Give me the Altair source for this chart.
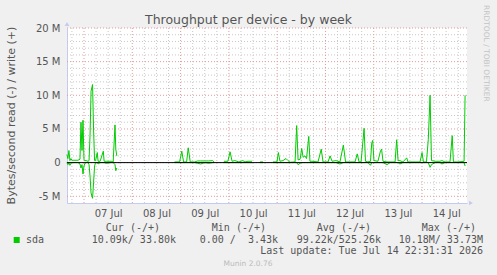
import altair as alt
import pandas as pd

# ---------------- data (hours since 2026-07-07 00:00, values in M bytes/s) -------------
# each tuple: (hour, write(+), read(-) magnitude)
seg1 = [(-8.5, 1.2, 0.0), (-8.0, 0.6, 0.3), (-7.5, 1.8, 0.0), (-7.0, 0.3, 0.4), (-6.5, 0.6, 0.1),
        (-6.0, 0.35, 0.0), (-3.0, 0.35, 0.0), (-2.0, 0.5, 0.2), (-1.5, 6.0, 0.8), (-1.0, 1.8, 0.3),
        (-0.5, 6.3, 1.7), (0.0, 0.4, 0.5), (0.5, 0.3, 0.1), (1.0, 0.3, 0.0), (2.0, 0.2, 0.0),
        (2.5, 0.3, 0.3), (3.0, 4.0, 2.0), (3.5, 10.6, 4.5), (4.25, 11.6, 5.3), (4.75, 5.0, 3.0),
        (5.25, 0.3, 0.5), (5.75, 0.3, 0.0), (6.6, 1.5, 0.0), (7.0, 0.2, 0.2), (8.0, 0.2, 0.0),
        (9.6, 1.7, 0.0), (10.0, 0.2, 0.0), (11.0, 0.2, 0.1), (13.5, 0.2, 0.0), (14.5, 0.1, 0.0),
        (15.4, 5.6, 0.3), (15.8, 2.0, 1.2), (16.3, 1.0, 0.8)]
seg2 = [(45.0, 0.1, 0.0), (47.5, 0.1, 0.0), (48.6, 1.7, 0.0), (49.5, 0.1, 0.0), (51.0, 0.1, 0.0),
        (51.8, 2.2, 0.0), (52.8, 0.1, 0.0), (55.0, 0.1, 0.0), (56.5, 0.25, 0.1), (58.0, 0.25, 0.2),
        (60.0, 0.25, 0.0), (62.0, 0.25, 0.1), (64.0, 0.3, 0.0), (64.6, 0.1, 0.0)]
seg3 = [(69.5, 0.2, 0.0), (71.5, 0.2, 0.0), (72.6, 1.6, 0.0), (73.6, 0.2, 0.0), (75.0, 0.3, 0.0),
        (77.0, 0.1, 0.0), (79.0, 0.3, 0.0), (80.0, 0.1, 0.0), (81.5, 0.2, 0.0), (83.5, 0.2, 0.0)]
seg4 = [(87.5, 0.1, 0.0), (89.0, 0.1, 0.0)]
seg5 = [(93.9, 0.1, 0), (95.9, 0.1, 0), (96.6, 1.5, 0), (97.4, 0.2, 0), (98.9, 0.3, 0),
        (100.4, 0.6, 0), (101.4, 0.3, 0), (102.4, 0.05, 0), (104.9, 0.1, 0), (105.7, 5.5, 0),
        (106.4, 0.4, 0.3), (107.4, 0.5, 0.1), (108.2, 2.1, 0), (108.9, 0.8, 0), (109.8, 1.0, 0),
        (110.6, 0.6, 0), (111.7, 3.9, 0), (112.3, 0.2, 0), (113.3, 0.2, 0), (116.3, 0.1, 0),
        (117.9, 2.0, 0), (118.8, 0.1, 0), (121.3, 0.1, 0), (122.3, 1.0, 0), (123.3, 0.2, 0),
        (125.2, 0.3, 0), (127.2, 0.1, 0.2), (128.9, 2.6, 0), (130.0, 0.1, 0), (132.2, 0.1, 0),
        (134.7, 0.1, 0), (135.8, 1.3, 0), (136.7, 0.1, 0), (137.7, 0.1, 0), (139.2, 5.1, 0),
        (139.9, 0.2, 0), (141.1, 0.1, 0), (142.4, 0.2, 0.4), (143.0, 2.9, 0), (143.5, 3.3, 0),
        (144.1, 0.3, 0), (146.1, 0.2, 0), (147.4, 1.8, 0), (147.9, 2.0, 0), (148.6, 0.2, 0),
        (150.6, 0.1, 0.3), (152.1, 0.1, 0), (154.6, 0.1, 0), (155.4, 3.4, 0), (156.1, 0.3, 0),
        (157.0, 0.3, 0.2), (158.5, 0.1, 0), (160.4, 0.7, 0), (161.0, 0.1, 0), (164.5, 0.1, 0),
        (167.0, 0.1, 0), (168.0, 1.5, 0), (168.7, 0.1, 0), (170.2, 0.1, 0), (171.1, 3.4, 0),
        (172.0, 10.0, 0.7), (172.7, 0.3, 0.3), (174.5, 0.2, 0), (176.9, 0.2, 0), (177.9, 0.3, 0.2),
        (179.4, 0.1, 0), (181.9, 0.1, 0), (183.0, 4.0, 0), (183.6, 0.1, 0), (185.9, 0.1, 0),
        (188.9, 0.2, 0), (189.4, 10.0, 0.5)]
segments = [seg1, seg2, seg3, seg4, seg5]

day_noon_hours = [12, 36, 60, 84, 108, 132, 156, 180]
day_labels = ["07 Jul", "08 Jul", "09 Jul", "10 Jul", "11 Jul", "12 Jul", "13 Jul", "14 Jul"]
day_bounds = [0, 24, 48, 72, 96, 120, 144, 168]
minor_x = [-6, 6, 12, 18, 30, 36, 42, 54, 60, 66, 78, 84, 90, 102, 108, 114, 126, 132, 138,
           150, 156, 162, 174, 180, 186]
y_major = [-5, 0, 5, 10, 15, 20]
y_minor = [-4, -3, -2, -1, 1, 2, 3, 4, 6, 7, 8, 9, 11, 12, 13, 14, 16, 17, 18, 19]

legend_headers = ["Cur (-/+)", "Min (-/+)", "Avg (-/+)", "Max (-/+)"]
legend_values = ["10.09k/ 33.80k", "0.00 /  3.43k", "99.22k/525.26k", "10.18M/ 33.73M"]
title_text = "Throughput per device - by week"
ylabel_text = "Bytes/second read (-) / write (+)"
last_update = "Last update: Tue Jul 14 22:31:31 2026"

# ---------------- build table ----------------
rows = []
for i, seg in enumerate(segments):
    for h, w, r in seg:
        rows.append({"h": h, "v": w, "key": f"w{i}"})
        rows.append({"h": h, "v": -r, "key": f"r{i}"})
df = pd.DataFrame(rows)

PL, PT = 67, 28
W, H = 400, 175
GREEN = "#00CC00"
FONT = "DejaVu Sans"
MONO = "DejaVu Sans Mono"
TXT = "#555555"
AXIS = "#C5CAF0"

xscale = alt.Scale(domain=[-8.45, 190.35], nice=False, zero=False)
yscale = alt.Scale(domain=[-6, 20], nice=False, zero=False)

label_js = "[" + ",".join(f"'{d}'" for d in day_labels) + "]"

XAXIS = alt.Axis(
    values=day_noon_hours, labelExpr=f"{label_js}[round((datum.value-12)/24)]",
    title=None, grid=False, ticks=False, domainColor=AXIS, domainWidth=1,
    labelFont=FONT, labelFontSize=10, labelColor=TXT, labelPadding=5, labelFlush=False)
YAXIS = alt.Axis(
    values=y_major, labelExpr="datum.value == 0 ? '0' : datum.value + ' M'",
    title=None, grid=False, ticks=False, domainColor=AXIS, domainWidth=1,
    labelFont=FONT, labelFontSize=10, labelColor=TXT, labelPadding=7)


def X(field="h"):
    return alt.X(f"{field}:Q", scale=xscale, axis=XAXIS)


def Y(field="v"):
    return alt.Y(f"{field}:Q", scale=yscale, axis=YAXIS)


lines = alt.Chart(df).mark_line(color=GREEN, strokeWidth=1, interpolate="linear").encode(
    x=X(), y=Y(), detail="key:N")


def vrules(vals, color):
    return alt.Chart(pd.DataFrame({"h": vals})).mark_rule(
        color=color, strokeDash=[1, 2], strokeWidth=1).encode(x=X())


def hrules(vals, color):
    return alt.Chart(pd.DataFrame({"v": vals})).mark_rule(
        color=color, strokeDash=[1, 2], strokeWidth=1).encode(y=Y())


MINOR = "#C8C8C8"
MAJOR = "#E59A9A"
grid = [vrules(minor_x, MINOR), hrules(y_minor, MINOR), vrules(day_bounds, MAJOR), hrules(y_major, MAJOR)]

zero = alt.Chart(pd.DataFrame({"v": [0]})).mark_rule(color="black", strokeWidth=1).encode(y=Y())


def txt(s, x, y, **kw):
    return alt.Chart(pd.DataFrame({"t": [s.replace(" ", "\u00a0")]})).mark_text(**kw).encode(
        x=alt.value(x - PL), y=alt.value(y - PT), text="t:N")


texts = [
    txt(title_text, 248.5, 23.5, font=FONT, fontSize=12.5, color=TXT, align="center", baseline="alphabetic"),
    txt(ylabel_text, 12, 115.5, font=FONT, fontSize=11, color=TXT, align="center", baseline="middle", angle=270),
    txt("RRDTOOL / TOBI OETIKER", 486, 5, font=FONT, fontSize=7.5, color="#C4C4C4", align="left", baseline="middle", angle=90),
    txt("sda", 26, 242.5, font=MONO, fontSize=10, color=TXT, align="left", baseline="alphabetic"),
    txt(last_update, 483, 253.5, font=MONO, fontSize=10, color=TXT, align="right", baseline="alphabetic"),
    txt("Munin 2.0.76", 248, 264, font=FONT, fontSize=7.5, color="#BBBBBB", align="center", baseline="middle"),
]
for s, xr in zip(legend_headers, [160, 266, 371, 476]):
    texts.append(txt(s, xr, 230.5, font=MONO, fontSize=10, color=TXT, align="right", baseline="alphabetic"))
for s, xr in zip(legend_values, [176, 278, 381, 483]):
    texts.append(txt(s, xr, 242.5, font=MONO, fontSize=10, color=TXT, align="right", baseline="alphabetic"))

swatch = alt.Chart(pd.DataFrame({"k": ["sda"]})).mark_square(
    color=GREEN, size=36, filled=True, opacity=1).encode(
    x=alt.value(16.7 - PL), y=alt.value(240 - PT), detail="k:N")

arrows = [
    alt.Chart(pd.DataFrame({"k": ["up"]})).mark_point(shape="triangle-up", filled=True, size=22,
        color=AXIS, opacity=1).encode(x=alt.value(0), y=alt.value(-4), detail="k:N"),
    alt.Chart(pd.DataFrame({"k": ["right"]})).mark_point(shape="triangle-right", filled=True, size=22,
        color=AXIS, opacity=1).encode(x=alt.value(W + 4), y=alt.value(H), detail="k:N"),
]

chart = alt.layer(*grid, lines, zero, *arrows, swatch, *texts).properties(
    width=W, height=H,
    autosize=alt.AutoSizeParams(type="none"),
    padding={"left": PL, "top": PT, "right": 497 - PL - W, "bottom": 275 - PT - H},
    background="#F0F0F0",
).configure_view(fill="white", stroke=None)

chart.save("out.html", embed_options={"renderer": "svg", "actions": False})
